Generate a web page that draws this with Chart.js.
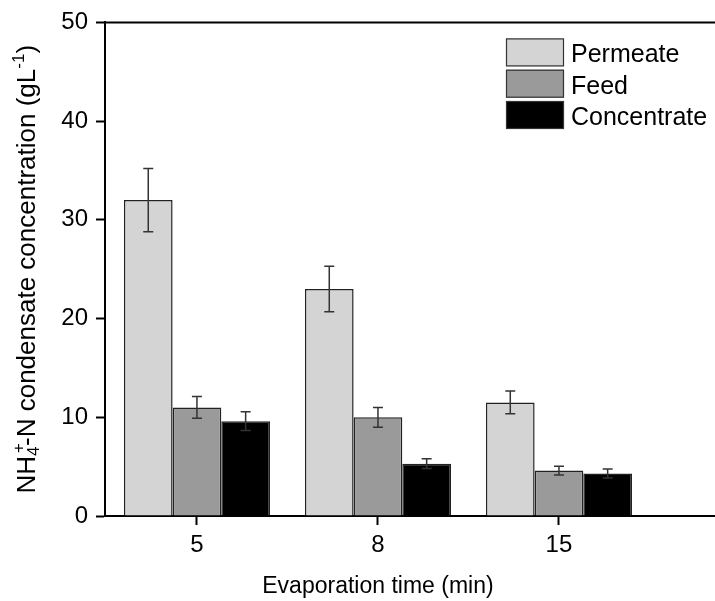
<!DOCTYPE html>
<html lang="en">
<head>
<meta charset="UTF-8">
<title>NH4+-N condensate concentration</title>
<script src="https://cdn.jsdelivr.net/npm/chart.js"></script>
<style>
  body { margin: 0; background: #fff; }
  .wrap { width: 715px; height: 601px; position: relative; }
</style>
</head>
<body>
<div class="wrap"><canvas id="chart"></canvas></div>
<script>
// data
const times = ['5', '8', '15'];
const seriesNames = ['Permeate', 'Feed', 'Concentrate'];
const permeate = [32.0, 23.0, 11.5];
const feed = [11.0, 10.0, 4.6];
const concentrate = [9.6, 5.3, 4.3];
const permeateErr = [3.2, 2.3, 1.15];
const feedErr = [1.1, 1.0, 0.45];
const concentrateErr = [0.95, 0.5, 0.45];
const yTicks = [0, 10, 20, 30, 40, 50];

const colors = ['#d4d4d4', '#9a9a9a', '#000000'];
const FONT = "'Liberation Sans', Arial, sans-serif";

function toPoints(arr) {
  return arr.map((v, i) => ({ x: i, y: v }));
}

const allErr = [permeateErr, feedErr, concentrateErr];

// error bars on top of every bar
const errorBars = {
  id: 'errorBars',
  afterDatasetsDraw(chart) {
    const ctx = chart.ctx;
    const y = chart.scales.y;
    ctx.save();
    ctx.strokeStyle = '#333';
    ctx.lineWidth = 1.5;
    chart.data.datasets.forEach((ds, di) => {
      const meta = chart.getDatasetMeta(di);
      meta.data.forEach((bar, i) => {
        const v = ds.data[i].y;
        const e = allErr[di][i];
        const top = y.getPixelForValue(v + e);
        const bot = y.getPixelForValue(v - e);
        ctx.beginPath();
        ctx.moveTo(bar.x, top); ctx.lineTo(bar.x, bot);
        ctx.moveTo(bar.x - 5, top); ctx.lineTo(bar.x + 5, top);
        ctx.moveTo(bar.x - 5, bot); ctx.lineTo(bar.x + 5, bot);
        ctx.stroke();
      });
    });
    ctx.restore();
  }
};

// top frame line, legend box and axis titles
const extras = {
  id: 'extras',
  afterDraw(chart) {
    const ctx = chart.ctx;
    const a = chart.chartArea;
    ctx.save();
    ctx.strokeStyle = '#000';
    ctx.lineWidth = 2;
    ctx.beginPath();
    ctx.moveTo(a.left - 1, a.top);
    ctx.lineTo(a.right, a.top);
    ctx.stroke();

    // legend
    const bx = a.right - 209;
    ctx.font = '25px ' + FONT;
    ctx.textBaseline = 'alphabetic';
    ctx.textAlign = 'left';
    chart.data.datasets.forEach((ds, i) => {
      const by = a.top + 16 + i * 31.3;
      ctx.fillStyle = ds.backgroundColor;
      ctx.fillRect(bx, by, 58, 28);
      ctx.strokeStyle = '#333';
      ctx.lineWidth = 1.2;
      ctx.strokeRect(bx + 0.5, by + 0.5, 57, 27);
      ctx.fillStyle = '#000';
      ctx.fillText(ds.label, bx + 65, by + 24);
    });

    // x title, centred under the middle category
    const xs = chart.scales.x;
    ctx.font = '23px ' + FONT;
    ctx.textAlign = 'center';
    ctx.fillText('Evaporation time (min)', xs.getPixelForValue(1), 593);

    // y title with sub/superscripts
    const parts = [
      { t: 'NH', m: 'n' },
      { t: '4', m: 'sub', keep: true },
      { t: '+', m: 'sup' },
      { t: '-N condensate concentration (gL', m: 'n' },
      { t: '-1', m: 'sup' },
      { t: ')', m: 'n' }
    ];
    const size = 26;
    const small = 17;
    let total = 0;
    const widths = parts.map(p => {
      ctx.font = (p.m === 'n' ? size : small) + 'px ' + FONT;
      return ctx.measureText(p.t).width;
    });
    parts.forEach((p, i) => { if (!p.keep) total += widths[i]; });
    ctx.translate(28, (a.top + a.bottom) / 2);
    ctx.rotate(-Math.PI / 2);
    ctx.textAlign = 'left';
    ctx.textBaseline = 'middle';
    let x = -total / 2;
    parts.forEach((p, i) => {
      ctx.font = (p.m === 'n' ? size : small) + 'px ' + FONT;
      const dy = p.m === 'sub' ? 6 : (p.m === 'sup' ? -9 : 0);
      ctx.fillText(p.t, x + (p.m === 'sup' && parts[i - 1] && parts[i - 1].keep ? 3 : 0), dy);
      if (!p.keep) x += widths[i];
    });
    ctx.restore();
  }
};

new Chart(document.getElementById('chart'), {
  type: 'bar',
  data: {
    datasets: [
      { label: seriesNames[0], data: toPoints(permeate), backgroundColor: colors[0] },
      { label: seriesNames[1], data: toPoints(feed), backgroundColor: colors[1] },
      { label: seriesNames[2], data: toPoints(concentrate), backgroundColor: colors[2] }
    ]
  },
  options: {
    responsive: true,
    maintainAspectRatio: false,
    animation: false,
    devicePixelRatio: 1,
    layout: { padding: { top: 20, right: 0, bottom: 0, left: 0 } },
    datasets: {
      bar: {
        categoryPercentage: 0.807,
        barPercentage: 1,
        borderColor: '#222',
        borderWidth: 1.5,
        borderSkipped: 'bottom'
      }
    },
    plugins: {
      legend: { display: false },
      tooltip: { enabled: false }
    },
    scales: {
      x: {
        type: 'linear',
        offset: false,
        min: -0.508,
        max: 2.862,
        afterBuildTicks: s => { s.ticks = times.map((t, i) => ({ value: i })); },
        afterFit: s => { s.height = 85; },
        grid: { offset: false, drawOnChartArea: false, drawTicks: true, tickLength: 9, tickWidth: 2, tickColor: '#000' },
        border: { color: '#000', width: 2 },
        ticks: {
          padding: 6,
          color: '#000',
          font: { family: FONT, size: 24 },
          callback: v => times[v] !== undefined ? times[v] : ''
        }
      },
      y: {
        min: 0,
        max: 50,
        afterBuildTicks: s => { s.ticks = yTicks.map(v => ({ value: v })); },
        afterFit: s => { s.width = 105; },
        grid: { drawOnChartArea: false, drawTicks: true, tickLength: 9, tickWidth: 2, tickColor: '#000' },
        border: { color: '#000', width: 2 },
        ticks: {
          padding: 8,
          color: '#000',
          font: { family: FONT, size: 24 }
        }
      }
    }
  },
  plugins: [errorBars, extras]
});
</script>
</body>
</html>
